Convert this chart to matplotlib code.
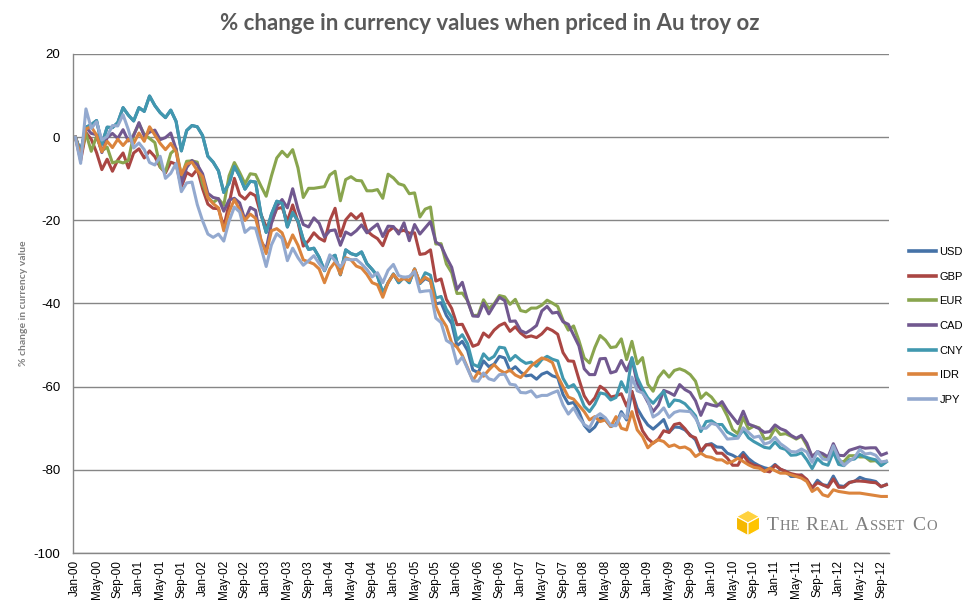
import numpy as np
import pandas as pd
import matplotlib
matplotlib.use('Agg')
import matplotlib.pyplot as plt
from matplotlib.patches import Polygon
from matplotlib.lines import Line2D

# monthly categories Jan-00 .. Oct-12
months = pd.date_range('2000-01-01', '2012-10-01', freq='MS')
month_labels = list(months.strftime('%b-%y'))

usd = [0.0, -3.5, 2.4, 3.0, 4.0, -1.7, 2.4, 2.3, 3.5, 7.1, 5.3, 3.9,
       7.1, 6.2, 9.9, 7.6, 5.9, 4.7, 6.5, 3.8, -3.3, 1.6, 2.8, 2.5,
       0.4, -4.6, -6.0, -8.1, -13.3, -11.1, -7.0, -9.4, -12.5, -10.6, -10.8, -18.4,
       -22.9, -18.5, -15.4, -15.9, -21.6, -18.1, -20.2, -24.6, -27.0, -26.7, -28.9, -32.1,
       -29.1, -28.4, -33.1, -27.1, -28.0, -28.4, -27.6, -30.4, -31.8, -33.4, -37.5, -35.0,
       -32.9, -35.0, -33.7, -35.0, -31.7, -35.2, -34.0, -34.6, -40.1, -39.8, -42.9, -44.8,
       -50.2, -49.1, -51.3, -56.0, -56.6, -53.8, -55.2, -54.6, -52.7, -53.1, -56.2, -55.2,
       -56.5, -57.4, -57.2, -58.2, -57.0, -56.5, -57.4, -57.8, -61.9, -64.1, -63.8, -66.0,
       -69.3, -70.8, -69.7, -67.5, -68.0, -69.6, -69.1, -66.0, -68.0, -61.2, -65.2, -67.4,
       -69.2, -70.2, -69.1, -67.9, -71.0, -69.7, -69.8, -70.4, -71.6, -72.8, -75.9, -74.0,
       -73.7, -74.5, -74.6, -76.0, -76.5, -77.2, -75.8, -77.3, -78.3, -79.0, -79.5, -79.8,
       -78.7, -79.9, -80.3, -81.6, -81.6, -81.2, -82.6, -84.4, -82.5, -83.6, -83.8, -81.5,
       -83.8, -84.0, -83.0, -82.8, -81.8, -82.3, -82.5, -82.8, -84.1, -83.5]

gbp = [0.0, -5.6, 1.1, -0.5, -3.7, -7.8, -5.3, -8.2, -5.5, -3.8, -7.4, -3.8,
       -2.8, -5.0, -3.3, -4.7, -7.2, -8.6, -6.0, -6.5, -12.0, -8.5, -9.3, -7.7,
       -12.4, -16.1, -17.1, -17.2, -21.6, -16.0, -9.9, -13.9, -14.9, -13.4, -14.1, -18.6,
       -21.5, -20.5, -17.2, -16.9, -20.2, -16.3, -20.4, -26.2, -24.9, -23.0, -24.3, -25.0,
       -20.1, -17.1, -23.8, -19.9, -18.4, -19.6, -18.4, -22.5, -23.6, -24.4, -26.1, -22.7,
       -21.7, -22.7, -22.4, -23.1, -23.0, -28.2, -28.0, -27.1, -34.6, -34.1, -39.0, -41.2,
       -45.1, -45.0, -47.6, -50.3, -49.8, -47.1, -48.1, -46.4, -45.3, -44.7, -46.7, -45.6,
       -47.1, -48.1, -47.8, -48.2, -47.3, -45.9, -46.5, -47.4, -51.8, -53.8, -53.9, -58.2,
       -62.2, -64.2, -62.7, -59.9, -60.8, -62.5, -62.2, -61.7, -64.7, -61.1, -66.8, -70.6,
       -72.5, -73.6, -72.6, -70.6, -71.0, -69.1, -68.8, -70.1, -71.8, -72.3, -75.5, -74.0,
       -74.0, -76.0, -76.0, -77.2, -78.9, -78.9, -76.4, -78.2, -78.9, -79.2, -80.2, -80.5,
       -78.9, -79.8, -80.4, -80.9, -81.2, -81.3, -82.3, -84.3, -83.1, -83.6, -84.2, -82.2,
       -84.2, -84.2, -83.1, -82.7, -82.7, -82.8, -83.0, -83.1, -84.0, -83.6]

eur = [0.0, -4.1, 0.9, -3.4, 0.2, -3.3, -2.4, -6.2, -5.8, -6.2, -5.6, 0.6,
       3.2, 0.7, -0.3, -1.3, -7.2, -8.3, -3.9, -2.7, -9.4, -5.8, -5.7, -6.0,
       -11.1, -14.5, -15.7, -14.8, -16.4, -9.3, -6.1, -8.5, -11.2, -8.8, -9.0, -11.7,
       -14.2, -9.3, -5.0, -3.4, -4.7, -3.0, -7.4, -14.5, -12.3, -12.3, -12.1, -11.9,
       -9.1, -8.2, -15.3, -10.2, -9.5, -10.4, -10.5, -12.9, -12.9, -12.6, -14.7, -8.9,
       -9.8, -11.2, -11.6, -13.6, -13.4, -19.2, -17.3, -16.8, -25.7, -25.6, -30.5, -32.6,
       -37.6, -37.5, -39.3, -42.9, -42.8, -39.1, -41.2, -40.1, -38.1, -38.4, -40.2, -39.0,
       -41.7, -42.0, -41.1, -41.1, -40.4, -39.2, -39.9, -40.7, -44.0, -46.4, -45.4, -48.9,
       -53.1, -54.3, -50.6, -47.7, -48.8, -50.6, -50.4, -48.5, -53.5, -49.1, -54.5, -53.0,
       -59.4, -61.1, -57.8, -56.2, -57.7, -56.1, -55.7, -56.2, -57.1, -58.7, -62.8, -61.5,
       -62.5, -64.2, -64.6, -67.1, -70.3, -71.3, -67.4, -70.2, -69.5, -69.9, -72.6, -72.3,
       -70.0, -71.5, -71.3, -71.9, -72.6, -71.9, -74.2, -76.8, -75.9, -76.4, -77.6, -75.3,
       -78.1, -78.0, -76.6, -76.6, -76.9, -76.9, -77.9, -77.8, -78.9, -78.0]

cad = [0.0, -3.5, 2.4, 0.9, 0.6, -3.7, -0.1, 0.9, -0.3, 1.8, -0.9, 0.4,
       3.5, 0.3, 1.2, 1.7, -0.6, -0.1, 1.0, -2.9, -11.3, -7.3, -5.6, -6.6,
       -8.8, -13.5, -14.5, -14.8, -17.8, -15.1, -14.7, -15.8, -19.9, -16.9, -17.6, -25.1,
       -26.9, -20.7, -16.6, -15.0, -17.0, -12.4, -17.3, -21.0, -21.6, -19.4, -20.7, -24.0,
       -22.5, -22.3, -26.0, -22.8, -23.5, -22.5, -21.1, -23.0, -21.9, -20.9, -23.9, -21.4,
       -21.5, -23.3, -20.6, -24.9, -21.0, -23.3, -21.8, -20.3, -25.2, -26.1, -28.9, -31.3,
       -36.6, -34.9, -39.4, -43.0, -43.1, -39.9, -42.5, -40.4, -38.5, -39.3, -44.3, -44.2,
       -46.5, -47.1, -46.3, -45.3, -41.8, -40.7, -42.3, -42.1, -44.4, -45.0, -47.6, -50.2,
       -55.7, -57.1, -57.1, -53.3, -53.2, -56.7, -56.3, -53.7, -56.2, -53.2, -59.3, -61.3,
       -63.7, -66.0, -64.4, -60.9, -61.4, -62.1, -59.5, -60.7, -61.4, -63.4, -66.9, -64.0,
       -64.4, -64.7, -63.6, -65.7, -67.3, -68.9, -65.9, -69.0, -69.5, -70.1, -71.0, -70.8,
       -69.2, -70.1, -70.6, -71.7, -72.4, -71.7, -73.6, -76.9, -75.6, -76.1, -76.9, -73.7,
       -76.5, -76.6, -75.3, -74.9, -74.5, -74.8, -74.7, -74.7, -76.5, -76.0]

cny = [0.0, -3.5, 2.4, 3.0, 4.0, -1.7, 2.4, 2.3, 3.5, 7.1, 5.3, 3.9,
       7.1, 6.2, 9.9, 7.6, 5.9, 4.7, 6.5, 3.8, -3.3, 1.6, 2.8, 2.5,
       0.4, -4.6, -6.0, -8.1, -13.3, -11.1, -7.0, -9.4, -12.5, -10.6, -10.8, -18.4,
       -22.9, -18.5, -15.4, -15.9, -21.6, -18.1, -20.2, -24.6, -27.0, -26.7, -28.9, -32.1,
       -29.1, -28.4, -33.1, -27.1, -28.0, -28.4, -27.6, -30.4, -31.8, -33.4, -37.5, -35.0,
       -32.9, -35.0, -33.7, -35.0, -31.7, -35.2, -32.6, -33.2, -38.7, -38.3, -41.4, -43.3,
       -48.8, -47.5, -49.7, -54.6, -55.2, -52.1, -53.5, -52.7, -50.5, -50.7, -53.7, -52.5,
       -53.6, -54.4, -54.1, -55.1, -53.5, -52.7, -53.4, -53.8, -58.0, -60.2, -59.5, -61.5,
       -64.7, -66.0, -64.2, -61.5, -61.8, -63.2, -62.6, -58.8, -61.3, -53.0, -57.8, -60.5,
       -62.7, -64.0, -62.5, -61.1, -64.8, -63.2, -63.4, -64.1, -65.5, -67.0, -70.8, -68.4,
       -68.2, -69.1, -69.1, -70.9, -71.6, -72.2, -70.4, -72.3, -73.2, -73.9, -74.6, -74.8,
       -73.3, -74.7, -75.1, -76.5, -76.4, -75.9, -77.6, -79.7, -77.3, -78.5, -78.9, -75.7,
       -78.7, -79.0, -77.6, -77.4, -76.3, -76.9, -77.3, -77.6, -79.0, -78.1]

idr = [0.0, -4.5, 2.0, 2.5, 0.5, -3.5, -1.0, -2.5, -0.5, -2.0, -0.5, -1.5,
       1.0, -1.0, 2.5, 0.5, -1.5, -3.0, -1.5, -3.5, -9.0, -6.5, -6.0, -8.0,
       -9.5, -14.5, -16.0, -17.0, -22.5, -18.0, -15.0, -17.5, -20.0, -18.5, -19.5, -24.5,
       -28.0, -22.5, -22.0, -23.0, -26.5, -23.5, -26.0, -29.5, -30.0, -30.5, -31.7, -35.0,
       -31.7, -30.0, -33.0, -29.0, -29.5, -31.0, -31.5, -33.0, -35.0, -35.5, -38.5, -35.0,
       -33.0, -34.5, -34.0, -34.5, -31.7, -35.0, -33.7, -34.5, -40.6, -43.5, -45.5, -49.5,
       -50.5, -52.5, -55.5, -58.5, -56.5, -57.5, -56.0, -54.7, -56.0, -56.7, -56.0, -57.2,
       -57.8, -56.5, -55.0, -54.0, -53.1, -53.5, -54.2, -57.5, -60.0, -62.5, -63.0, -64.5,
       -66.0, -68.0, -67.2, -68.4, -68.0, -69.6, -67.2, -70.0, -70.4, -66.0, -70.4, -72.0,
       -74.7, -73.5, -72.8, -73.2, -74.4, -74.0, -74.7, -74.5, -75.2, -76.8, -76.0, -76.8,
       -77.0, -77.6, -77.6, -78.4, -78.0, -77.2, -78.0, -78.8, -79.4, -79.6, -80.4, -79.6,
       -80.2, -80.8, -80.8, -81.2, -81.6, -82.0, -82.8, -85.2, -84.4, -86.0, -86.4, -84.8,
       -85.2, -85.4, -85.6, -85.6, -85.6, -85.8, -86.0, -86.2, -86.4, -86.4]

jpy = [0.0, -6.3, 6.8, 2.1, 3.7, -0.7, 0.2, 2.8, 2.7, 5.4, 1.8, -2.6,
       -1.4, -3.0, -6.1, -6.7, -4.6, -9.9, -8.7, -6.3, -13.1, -11.0, -10.8, -16.2,
       -20.1, -23.3, -24.1, -23.3, -25.0, -20.2, -16.8, -18.0, -22.9, -21.8, -21.9, -26.4,
       -31.1, -25.9, -23.2, -24.3, -29.7, -26.7, -29.0, -30.8, -29.7, -28.5, -30.4, -32.0,
       -28.3, -29.7, -31.2, -29.3, -29.5, -29.4, -30.5, -31.8, -33.6, -32.6, -35.0, -32.0,
       -30.6, -33.3, -33.7, -33.5, -32.3, -37.2, -37.0, -36.9, -43.5, -44.6, -48.9, -49.7,
       -54.5, -52.9, -55.7, -58.6, -58.7, -56.7, -58.1, -58.5, -57.1, -57.0, -59.4, -59.6,
       -61.4, -61.5, -61.0, -62.5, -62.1, -62.1, -61.5, -61.0, -64.4, -66.6, -65.1, -67.4,
       -69.1, -69.9, -67.4, -66.5, -67.5, -69.3, -69.4, -66.5, -67.6, -57.7, -61.0, -61.5,
       -63.3, -67.3, -66.5, -65.1, -67.4, -66.2, -65.8, -65.9, -66.0, -67.6, -70.0, -70.0,
       -68.8, -69.2, -70.8, -72.6, -72.5, -72.4, -69.9, -71.0, -72.2, -71.9, -73.8, -73.4,
       -72.2, -73.7, -74.6, -75.6, -75.7, -75.0, -75.7, -78.2, -75.6, -77.4, -77.6, -74.2,
       -77.2, -78.9, -77.9, -77.0, -75.1, -76.2, -76.0, -76.5, -78.1, -77.9]

series_names = ['USD', 'GBP', 'EUR', 'CAD', 'CNY', 'IDR', 'JPY']
series_vals = [usd, gbp, eur, cad, cny, idr, jpy]
colors = ['#4572A7', '#AA4643', '#89A54E', '#71588F', '#4198AF', '#DB843D', '#93A9CF']

for s in series_vals:
    assert len(s) == len(months)

W, H = 974, 609
fig = plt.figure(figsize=(W / 100, H / 100), dpi=100)
ax = fig.add_axes([72.7 / W, 1 - 553 / H, (889 - 72.7) / W, (553 - 54) / H])

x = np.arange(len(months))
for name, vals, c in zip(series_names, series_vals, colors):
    ax.plot(x, vals, color=c, lw=2.2, label=name, solid_joinstyle='round')

ax.set_xlim(-0.5, len(months) - 0.5)
ax.set_ylim(-100, 20)
ax.set_yticks(np.arange(-100, 21, 20))
ax.set_yticklabels([str(v) for v in range(-100, 21, 20)], fontsize=9.5,
                   family='Liberation Sans')
ax.set_xticks(x[::4])
ax.set_xticklabels(month_labels[::4], rotation=90, fontsize=8.5,
                   family='Liberation Sans')
ax.tick_params(axis='both', length=0)
ax.tick_params(axis='y', pad=9)
ax.tick_params(axis='x', pad=5)

ax.grid(axis='y', color='#868686', lw=1)
ax.set_axisbelow(True)
for sp in ['top', 'right']:
    ax.spines[sp].set_visible(False)
for sp in ['left', 'bottom']:
    ax.spines[sp].set_color('#868686')
    ax.spines[sp].set_linewidth(1)

ax.set_ylabel('% change in currency value', fontsize=7.5, fontweight='bold',
              color='#7F7F7F', family='Lato', labelpad=4)

fig.text(490 / W, 1 - 23 / H, '% change in currency values when priced in Au troy oz',
         ha='center', va='center', fontsize=16, fontweight='bold',
         color='#595959', family='Lato')

# legend on the right
handles = [Line2D([0], [0], color=c, lw=2.6) for c in colors]
fig.legend(handles, series_names, loc='center left',
           bbox_to_anchor=(909 / W, 1 - 326 / H), frameon=False,
           prop={'family': 'Liberation Sans', 'size': 8},
           handlelength=2.4, handletextpad=0.35, labelspacing=1.32,
           borderpad=0, borderaxespad=0)

# logo: yellow cube + small caps name
cx, cy, r = 748, 523, 14
tf = fig.transFigure
def fp(px, py):
    return (px / W, 1 - py / H)
ang = np.deg2rad(np.arange(90, 450, 60))
hexpts = [fp(cx + r * np.cos(a) * 0.95, cy - r * np.sin(a) * 0.9) for a in ang]
faces = [
    ([fp(cx, cy), hexpts[1], hexpts[0], hexpts[5]], '#FFD23F'),   # top
    ([fp(cx, cy), hexpts[1], hexpts[2], hexpts[3]], '#F5B800'),   # left
    ([fp(cx, cy), hexpts[3], hexpts[4], hexpts[5]], '#FFC400'),   # right
]
for pts, fc in faces:
    fig.patches.append(Polygon(pts, closed=True, transform=tf, fc=fc,
                               ec='white', lw=0.8))

renderer = fig.canvas.get_renderer()
pieces = [('T', 14), ('HE ', 10.5), ('R', 14), ('EAL ', 10.5), ('A', 14),
          ('SSET ', 10.5), ('C', 14), ('O', 10.5)]
xpos = 767
for txt, sz in pieces:
    t = fig.text(xpos / W, 1 - 530 / H, txt, fontsize=sz, family='Liberation Serif',
                 color='#7F7F7F', ha='left', va='baseline')
    bb = t.get_window_extent(renderer=renderer)
    xpos += bb.width + 1.2 * len(txt.strip())

fig.savefig('out.png', dpi=100)
